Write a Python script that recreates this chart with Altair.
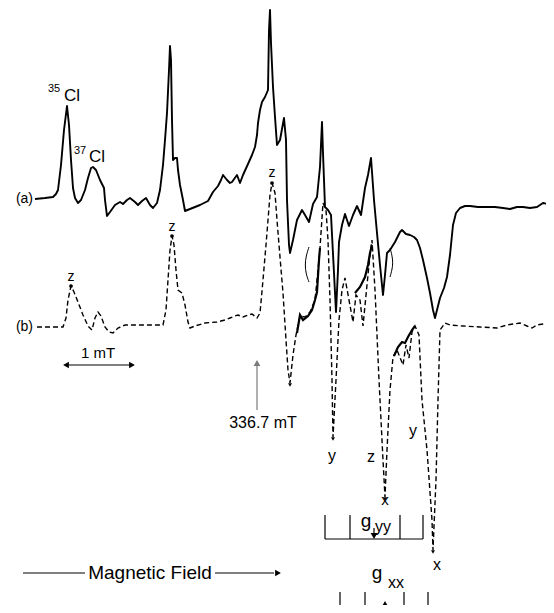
import altair as alt
import pandas as pd

# ---- trace (a): solid EPR spectrum (field px, signal px from top) ----
a_field = [35,45,53,56,58,61,64,67,69,71,73,75,78,81,85,88,91,93,96,100,104,105,107,110,115,120,123,127,130,135,138,142,146,150,153,157,160,163,165,167,169,170,171,172,173,175,177,178,180,183,185,190,200,208,213,218,221,223,227,230,232,237,240,243,248,252,255,257,258,260,262,265,268,269,270,271,273,275,277,280,284,286,287,289,290,293,297,302,305,309,313,317,320,322,323,325,328,331,336,338,339,342,345,349,353,357,361,365,368,371,374,377,380,383,385,387,390,395,400,402,406,410,414,417,420,423,427,430,433,435,437,440,444,447,450,453,456,460,465,470,478,487,495,503,510,517,523,530,537,543,548,553]
a_signal = [199,198,197,194,190,165,130,106,125,160,188,198,203,200,190,178,168,167,170,180,188,200,216,212,205,202,204,200,198,202,205,201,198,205,208,203,190,165,140,113,70,46,60,120,160,158,158,170,185,200,211,209,205,201,192,186,180,175,180,183,182,175,183,175,164,155,147,135,123,110,102,97,90,30,10,43,87,117,145,140,118,140,200,245,253,240,220,210,215,222,204,197,167,122,153,207,210,215,312,270,242,225,214,226,215,206,215,188,175,158,200,233,265,295,275,253,250,242,232,230,234,235,237,240,248,260,278,293,310,318,310,298,288,277,255,225,213,208,206,206,207,207,207,208,209,207,207,208,207,203,204,203]

# ---- trace (b): dashed simulated spectrum ----
b_field = [37,50,63,66,68,71,74,78,83,88,92,95,98,101,105,109,113,118,125,140,155,163,166,168,170,172,174,176,178,182,185,188,190,195,205,217,225,230,235,238,243,248,252,257,260,263,266,268,270,272,275,277,280,283,286,288,290,293,296,300,305,310,315,318,320,323,326,328,330,332,333,336,339,342,345,349,353,356,360,363,367,370,372,375,379,383,385,387,390,393,397,403,406,409,412,415,419,422,427,432,433,436,438,440,445,450,463,480,497,507,520,527,532,537,550]
b_signal = [327,327,327,318,300,286,292,302,315,326,330,318,312,316,327,332,333,328,325,325,325,325,310,280,250,236,245,270,290,293,305,322,328,326,323,322,320,318,316,315,317,315,314,318,313,280,245,220,195,183,193,220,257,293,340,370,383,355,335,316,317,312,300,270,248,203,210,240,300,380,437,380,320,290,278,300,322,295,300,326,285,255,240,290,380,460,497,450,390,357,350,365,345,358,332,326,335,400,450,520,550,480,400,330,323,325,326,327,328,325,323,326,328,325,323]

# solid overlays on trace (b)
seg_id    = [1,1,1,1,1,1,1,1,1, 2,2,2,2,2,2, 3,3,3,3,3,3,3]
seg_field = [297,300,303,308,312,315,317,319,320, 355,360,365,368,370,372, 394,398,402,405,408,412,415]
seg_sig   = [333,315,320,316,310,300,292,260,248, 293,287,277,265,253,245, 356,347,342,343,337,330,326]

# parentheses marks
par_id    = [1,1,1,1,1, 2,2,2,2,2]
par_field = [309,306,305,306,309, 390,392,393,392,390]
par_sig   = [247,256,265,274,282, 248,255,263,270,277]

# peak dots (z positions) and minimum arrowheads on (b)
dot_field = [71,172,272]
dot_sig   = [286,236,183]
min_field = [290,333,385,433]
min_sig   = [385,439,499,552]

# labels
lab_text = ["Cl","Cl","35","37","(a)","(b)","z","z","z","1 mT","336.7 mT","y","z","x","y","x","Magnetic Field","g","yy","g","xx"]
lab_x    = [72,97,54,80,33,33,71,172,272,98,263,332,371,385,413,437,150,366,383,377,396]
lab_y    = [96,157,89,151,199,327,277,227,173,353,423,456,457,500,431,565,573,521,527,573,583]
lab_fs   = [17,17,11,11,14,14,14,14,14,15,16,16,16,15,16,16,19,19,16,19,16]
lab_al   = ["center","center","center","center","right","right","center","center","center","center","center","center","center","center","center","center","center","center","center","center","center"]

# bracket ticks
gyy_ticks = [325,350,400,423]
gxx_ticks = [340,365,404,428]

xs = alt.Scale(domain=[8, 546], nice=False, zero=False)
ys = alt.Scale(domain=[8, 605], nice=False, zero=False, reverse=True)
X = lambda f: alt.X(f, type="quantitative", scale=xs, axis=None)
Y = lambda f: alt.Y(f, type="quantitative", scale=ys, axis=None)

da = pd.DataFrame({"f": a_field, "s": a_signal, "i": range(len(a_field))})
db = pd.DataFrame({"f": b_field, "s": b_signal, "i": range(len(b_field))})
dseg = pd.DataFrame({"f": seg_field, "s": seg_sig, "g": seg_id, "i": range(len(seg_id))})
dpar = pd.DataFrame({"f": par_field, "s": par_sig, "g": par_id, "i": range(len(par_id))})
ddot = pd.DataFrame({"f": dot_field, "s": dot_sig})
dmin = pd.DataFrame({"f": min_field, "s": min_sig})
dlab = pd.DataFrame({"f": lab_x, "s": lab_y, "t": lab_text, "fs": lab_fs, "al": lab_al})

line_a = alt.Chart(da).mark_line(color="black", strokeWidth=1.9, strokeJoin="round").encode(
    x=X("f"), y=Y("s"), order="i:Q")
line_b = alt.Chart(db).mark_line(color="black", strokeWidth=1.4, strokeDash=[5, 3]).encode(
    x=X("f"), y=Y("s"), order="i:Q")
line_seg = alt.Chart(dseg).mark_line(color="black", strokeWidth=2.2).encode(
    x=X("f"), y=Y("s"), detail="g:N", order="i:Q")
line_par = alt.Chart(dpar).mark_line(color="black", strokeWidth=1.0, interpolate="basis").encode(
    x=X("f"), y=Y("s"), detail="g:N", order="i:Q")
dots = alt.Chart(ddot).mark_circle(color="black", size=14, opacity=1).encode(x=X("f"), y=Y("s"))
mins = alt.Chart(dmin).mark_point(shape="triangle-down", filled=True, color="black", size=16, opacity=1).encode(
    x=X("f"), y=Y("s"))

texts_c = alt.Chart(dlab[dlab.al == "center"]).mark_text(font="Liberation Sans", color="black", baseline="middle", align="center").encode(
    x=X("f"), y=Y("s"), text="t:N", size=alt.Size("fs:Q", scale=None, legend=None))
texts_r = alt.Chart(dlab[dlab.al == "right"]).mark_text(font="Liberation Sans", color="black", baseline="middle", align="right").encode(
    x=X("f"), y=Y("s"), text="t:N", size=alt.Size("fs:Q", scale=None, legend=None))

# arrows / rules
rules_df = pd.DataFrame({
    "x1": [67, 257, 23, 215] + gyy_ticks + [325] + gxx_ticks + [385, 418, 374],
    "x2": [131, 257, 85, 274] + gyy_ticks + [423] + gxx_ticks + [385, 428, 374],
    "y1": [365, 410, 573, 573] + [515]*4 + [539] + [592]*4 + [613, 611, 528],
    "y2": [365, 366, 573, 573] + [539]*4 + [539] + [613]*4 + [606, 611, 534],
    "c": ["black", "#7a7a7a", "black", "black"] + ["black"]*4 + ["black"] + ["black"]*4 + ["black", "black", "black"],
})
rules = alt.Chart(rules_df).mark_rule(strokeWidth=1.2).encode(
    x=X("x1"), x2="x2:Q", y=Y("y1"), y2="y2:Q", color=alt.Color("c:N", scale=None))

heads_df = pd.DataFrame({
    "f": [66, 132, 257, 278, 374, 385],
    "s": [365, 365, 363, 573, 536, 604],
    "sh": ["triangle-left", "triangle-right", "triangle-up", "triangle-right", "triangle-down", "triangle-up"],
    "c": ["black", "black", "#7a7a7a", "black", "black", "black"],
})
heads = alt.Chart(heads_df).mark_point(filled=True, size=45, opacity=1).encode(
    x=X("f"), y=Y("s"), shape=alt.Shape("sh:N", scale=None), color=alt.Color("c:N", scale=None))

chart = alt.layer(line_a, line_b, line_seg, line_par, dots, mins, rules, heads, texts_c, texts_r).properties(
    width=538, height=597, padding=0, autosize=alt.AutoSizeParams(type="none"), background="white"
).configure_view(stroke=None)

chart.save("out.html", embed_options={"renderer": "svg", "actions": False})
